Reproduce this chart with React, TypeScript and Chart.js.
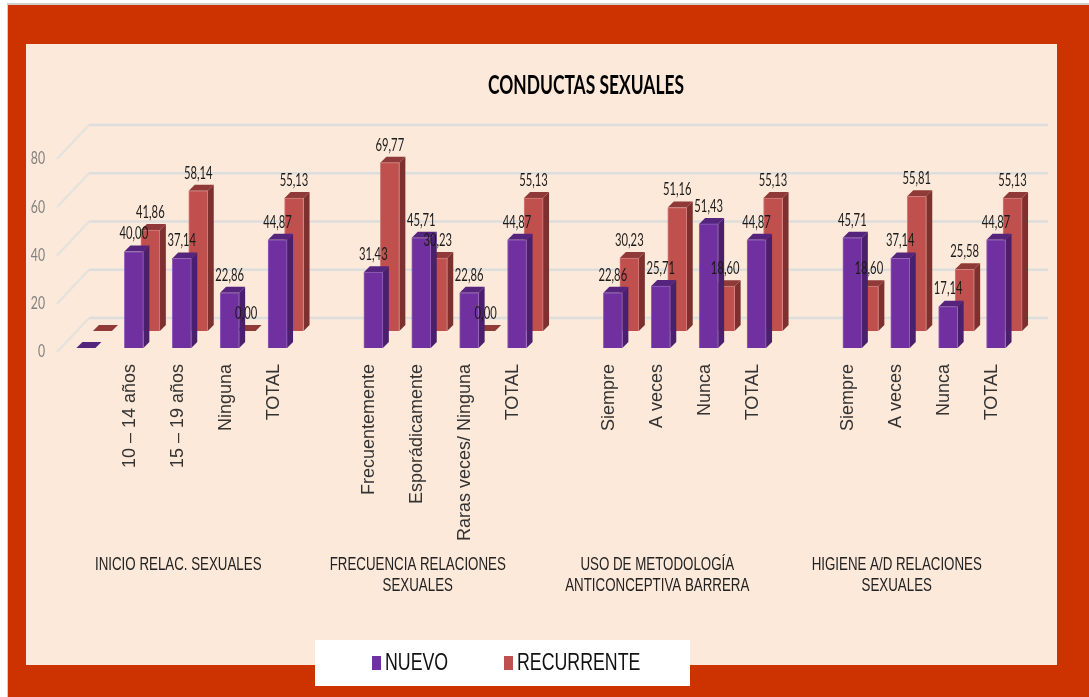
import { useEffect, useRef } from "react";
import { Chart, registerables } from "chart.js";

Chart.register(...registerables);

const categories = [
  "", "10 – 14 años", "15 – 19 años", "Ninguna", "TOTAL",
  "", "Frecuentemente", "Esporádicamente", "Raras veces/ Ninguna", "TOTAL",
  "", "Siempre", "A veces", "Nunca", "TOTAL",
  "", "Siempre", "A veces", "Nunca", "TOTAL",
];
const nuevo = [
  0, 40.0, 37.14, 22.86, 44.87,
  null, 31.43, 45.71, 22.86, 44.87,
  null, 22.86, 25.71, 51.43, 44.87,
  null, 45.71, 37.14, 17.14, 44.87,
];
const recurrente = [
  0, 41.86, 58.14, 0, 55.13,
  null, 69.77, 30.23, 0, 55.13,
  null, 30.23, 51.16, 18.6, 55.13,
  null, 18.6, 55.81, 25.58, 55.13,
];
const groupLabels = [
  { slot: 2, lines: ["INICIO RELAC. SEXUALES"] },
  { slot: 7, lines: ["FRECUENCIA RELACIONES", "SEXUALES"] },
  { slot: 12, lines: ["USO DE METODOLOGÍA", "ANTICONCEPTIVA BARRERA"] },
  { slot: 17, lines: ["HIGIENE A/D RELACIONES", "SEXUALES"] },
];
const chartTitle = "CONDUCTAS SEXUALES";
const yTicks = { min: 0, max: 80, step: 20 };

const LATO = "Lato, 'Liberation Sans', sans-serif";
const ARIAL = "'Liberation Sans', Arial, sans-serif";

const styles = [
  { front: "#7030A0", side: "#4A1F6C", top: "#55257E", edge: "#9165B3", dx: 5, dy: -4 },
  { front: "#C0504D", side: "#7D302E", top: "#8F3A38", edge: "#D27F7C", dx: 21.5, dy: -21 },
];

const DEPTH = 6;
const FLOOR_DX = 32;
const FLOOR_DY = -34;
const WALL_RIGHT = 1048;

function squeezed(ctx: any, text: string, x: number, y: number, factor: number) {
  ctx.fillText(text, x, y, ctx.measureText(text).width * factor);
}

const scene = {
  id: "scene",
  beforeDraw(chart: any) {
    const { ctx, width, height } = chart;
    ctx.save();
    ctx.fillStyle = "#FFFFFF";
    ctx.fillRect(0, 0, width, height);
    ctx.fillStyle = "#CFCFCF";
    ctx.fillRect(7, 3, width - 7, 2);
    ctx.fillRect(7, 3, 1, height - 3);
    ctx.fillStyle = "#CC3300";
    ctx.fillRect(8, 5, width - 8, height - 5);
    ctx.fillStyle = "#FDE9D9";
    ctx.fillRect(26, 44, 1031, 621);
    ctx.fillStyle = "#FFFFFF";
    ctx.fillRect(315, 640, 375, 46);

    ctx.fillStyle = "#000000";
    ctx.font = `bold 27px ${LATO}`;
    ctx.textAlign = "center";
    ctx.textBaseline = "middle";
    ctx.fillText(chartTitle, 586, 85, 196);

    ctx.font = `17px ${LATO}`;
    ctx.fillStyle = "#808080";
    ctx.textAlign = "right";
    chart.scales.y.ticks.forEach((t: any) => {
      squeezed(ctx, String(t.value), 45, chart.scales.y.getPixelForValue(t.value), 0.72);
    });

    ctx.textAlign = "left";
    ctx.font = `24px ${ARIAL}`;
    const legendX = [372, 504];
    chart.data.datasets.forEach((d: any, i: number) => {
      ctx.fillStyle = d.backgroundColor;
      ctx.fillRect(legendX[i], 656, 9, 14);
      ctx.fillStyle = "#111111";
      squeezed(ctx, d.label, legendX[i] + 13, 663, 0.74);
    });
    ctx.restore();
  },
  beforeDatasetsDraw(chart: any) {
    const { ctx } = chart;
    const y = chart.scales.y;
    const x0 = chart.chartArea.left;
    ctx.save();
    for (let v = yTicks.min; v <= yTicks.max; v += yTicks.step) {
      const py = y.getPixelForValue(v);
      ctx.strokeStyle = "#E2E2DF";
      ctx.lineWidth = 2;
      ctx.beginPath();
      ctx.moveTo(x0, py);
      ctx.lineTo(x0 + FLOOR_DX, py + FLOOR_DY);
      ctx.stroke();
      ctx.strokeStyle = "#DCDDDD";
      ctx.lineWidth = 2.5;
      ctx.beginPath();
      ctx.moveTo(x0 + FLOOR_DX, py + FLOOR_DY);
      ctx.lineTo(WALL_RIGHT, py + FLOOR_DY);
      ctx.stroke();
    }
    ctx.restore();
  },
  beforeDatasetDraw(chart: any, args: any) {
    const { ctx } = chart;
    const s = styles[args.index];
    const meta = args.meta;
    ctx.save();
    ctx.translate(s.dx, s.dy);
    meta.data.forEach((bar: any, i: number) => {
      const raw = chart.data.datasets[args.index].data[i];
      if (raw === null || raw === undefined) return;
      const half = bar.width / 2;
      const l = bar.x - half;
      const r = bar.x + half;
      const t = bar.y;
      const b = bar.base;
      ctx.fillStyle = s.side;
      ctx.beginPath();
      ctx.moveTo(r, t);
      ctx.lineTo(r + DEPTH, t - DEPTH);
      ctx.lineTo(r + DEPTH, b - DEPTH);
      ctx.lineTo(r, b);
      ctx.closePath();
      ctx.fill();
      ctx.fillStyle = s.top;
      ctx.beginPath();
      ctx.moveTo(l, t);
      ctx.lineTo(l + DEPTH, t - DEPTH);
      ctx.lineTo(r + DEPTH, t - DEPTH);
      ctx.lineTo(r, t);
      ctx.closePath();
      ctx.fill();
    });
  },
  afterDatasetDraw(chart: any) {
    chart.ctx.restore();
  },
  afterDatasetsDraw(chart: any) {
    const { ctx } = chart;
    ctx.save();
    ctx.font = `16.5px ${LATO}`;
    ctx.fillStyle = "#1A1A1A";
    ctx.textAlign = "center";
    ctx.textBaseline = "middle";
    [1, 0].forEach((d) => {
      const s = styles[d];
      const vals = chart.data.datasets[d].data;
      chart.getDatasetMeta(d).data.forEach((bar: any, i: number) => {
        if (i === 0 || vals[i] === null) return;
        const txt = vals[i].toFixed(2).replace(".", ",");
        squeezed(ctx, txt, bar.x + s.dx, bar.y + s.dy - 17.5, 0.68);
      });
    });
    ctx.font = `18px ${ARIAL}`;
    ctx.fillStyle = "#222222";
    const xs = chart.scales.x;
    groupLabels.forEach((g) => {
      g.lines.forEach((line, k) => {
        squeezed(ctx, line, xs.getPixelForValue(g.slot) + 1.5, 565 + k * 21, 0.74);
      });
    });
    ctx.restore();
  },
};

export default function App() {
  const ref = useRef<HTMLCanvasElement | null>(null);
  useEffect(() => {
    const chart = new Chart(ref.current!, {
      type: "bar",
      data: {
        labels: categories,
        datasets: [
          {
            label: "NUEVO",
            data: nuevo,
            backgroundColor: styles[0].front,
            borderColor: styles[0].edge,
            borderWidth: 1,
            barThickness: 19,
            grouped: false,
            clip: false,
          },
          {
            label: "RECURRENTE",
            data: recurrente,
            backgroundColor: styles[1].front,
            borderColor: styles[1].edge,
            borderWidth: 1,
            barThickness: 19,
            grouped: false,
            clip: false,
          },
        ] as any,
      },
      options: {
        responsive: false,
        animation: false,
        layout: { padding: { left: 0, right: 74, top: 159, bottom: 0 } },
        scales: {
          x: {
            grid: { display: false },
            border: { display: false },
            afterFit: (s: any) => {
              s.height = 345;
            },
            ticks: {
              autoSkip: false,
              minRotation: 90,
              maxRotation: 90,
              padding: 4,
              labelOffset: 1,
              color: "#333333",
              font: { family: ARIAL, size: 18 },
            },
          },
          y: {
            min: yTicks.min,
            max: yTicks.max,
            grid: { display: false },
            border: { display: false },
            afterFit: (s: any) => {
              s.width = 57;
            },
            ticks: { stepSize: yTicks.step, display: false },
          },
        },
        plugins: {
          tooltip: { enabled: false },
          title: { display: false },
          legend: { display: false },
        },
      } as any,
      plugins: [scene],
    });
    return () => chart.destroy();
  }, []);
  return (
    <canvas
      ref={ref}
      width={1089}
      height={697}
      style={{ position: "absolute", left: 0, top: 0, display: "block" }}
    />
  );
}
